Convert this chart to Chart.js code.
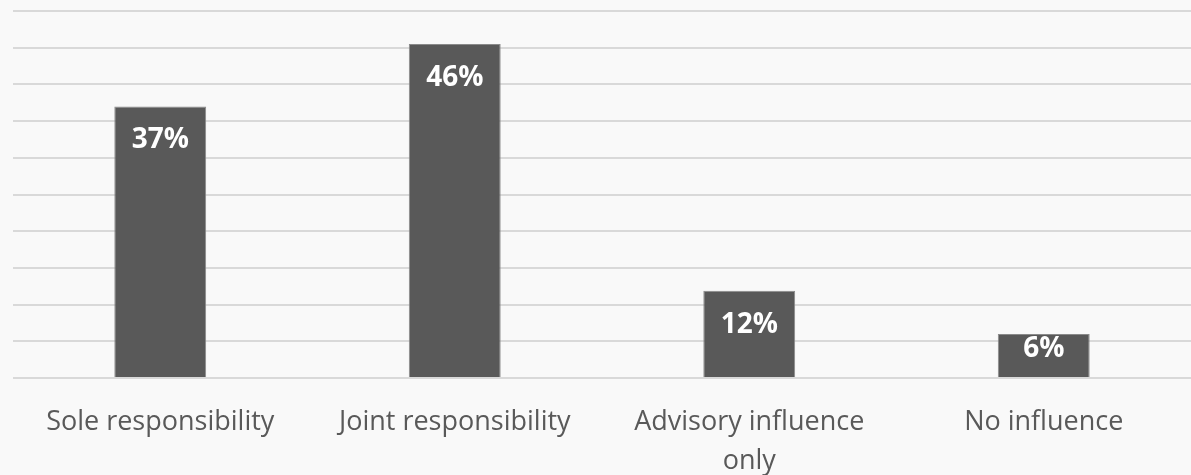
<!DOCTYPE html>
<html>
<head>
<meta charset="utf-8">
<script src="https://cdn.jsdelivr.net/npm/chart.js@4/dist/chart.umd.min.js"></script>
<style>
  html, body { margin: 0; padding: 0; background: #f9f9f9; }
  #wrap { width: 1191px; height: 475px; position: relative; }
</style>
</head>
<body>
<div id="wrap"><canvas id="respChart"></canvas></div>
<script>
const categories = [
    'Sole responsibility',
    'Joint responsibility',
    ['Advisory influence', 'only'],
    'No influence'
];
const shares = [37, 45.5, 11.9, 6];
const yTicks = [0, 5, 10, 15, 20, 25, 30, 35, 40, 45, 50];

// labels inside the top of each bar, like Excel's "inside end"
const insideLabels = {
    id: 'insideLabels',
    afterDatasetsDraw(chart) {
        const ctx = chart.ctx;
        const meta = chart.getDatasetMeta(0);
        ctx.save();
        ctx.fillStyle = '#ffffff';
        ctx.font = 'bold 28px "Open Sans"';
        ctx.textAlign = 'center';
        ctx.textBaseline = 'middle';
        meta.data.forEach((bar, i) => {
            const h = bar.base - bar.y;
            const y = bar.y + Math.min(34, h / 2 - 6);
            ctx.fillText(Math.round(shares[i]) + '%', bar.x, y);
        });
        ctx.restore();
    }
};

const ctx = document.getElementById('respChart').getContext('2d');
new Chart(ctx, {
    type: 'bar',
    data: {
        labels: categories,
        datasets: [{
            data: shares,
            backgroundColor: '#595959',
            borderColor: '#8a8a8a',
            borderWidth: 1,
            categoryPercentage: 1,
            barPercentage: 0.312
        }]
    },
    options: {
        responsive: true,
        maintainAspectRatio: false,
        animation: false,
        layout: { padding: { left: 13, top: 11, right: 0, bottom: 0 } },
        scales: {
            x: {
                grid: { display: false },
                border: { display: false },
                ticks: {
                    color: '#595959',
                    font: { family: '"Open Sans"', size: 27, lineHeight: 1.45 },
                    padding: 17,
                    maxRotation: 0,
                    autoSkip: false
                },
                afterFit(scale) { scale.height = 97; }
            },
            y: {
                min: yTicks[0],
                max: yTicks[yTicks.length - 1],
                afterBuildTicks(scale) { scale.ticks = yTicks.map(v => ({ value: v })); },
                ticks: { display: false },
                grid: { color: '#d9d9d9', lineWidth: 2, drawTicks: false },
                border: { display: false },
                afterFit(scale) { scale.width = 0; }
            }
        },
        plugins: {
            legend: { display: false },
            tooltip: { enabled: false }
        }
    },
    plugins: [insideLabels]
});
</script>
</body>
</html>
